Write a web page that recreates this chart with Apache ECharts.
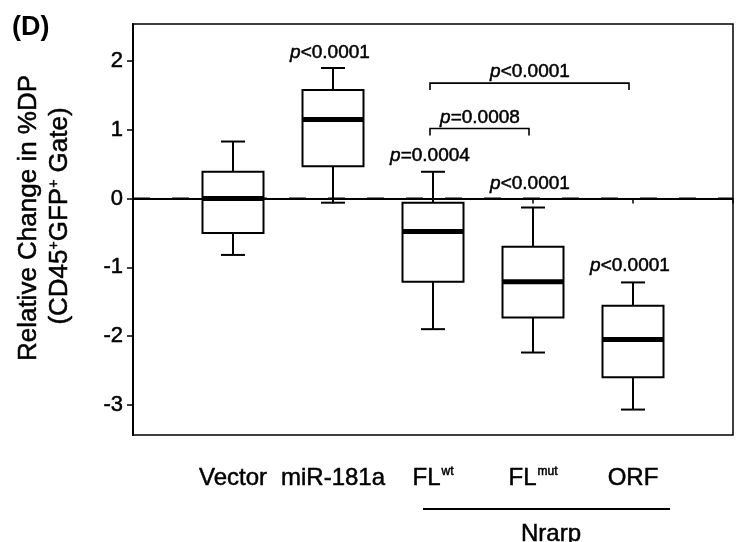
<!DOCTYPE html>
<html>
<head>
<meta charset="utf-8">
<script src="https://cdn.jsdelivr.net/npm/echarts@6/dist/echarts.min.js"></script>
<style>
html,body{margin:0;padding:0;background:#fff;}
#chart{width:736px;height:542px;}
</style>
</head>
<body>
<div id="chart"></div>
<script>
// ---- data ----
const categories = [' ', 'Vector', 'miR-181a', 'FLwt', 'FLmut', 'ORF', '  '];
const categoryLabels = ['', 'Vector', 'miR-181a', 'FL{s|wt}', 'FL{s|mut}', 'ORF', ''];
const boxIndex = [1, 2, 3, 4, 5];
const boxMin = [-0.82, -0.06, -1.90, -2.24, -3.07];
const boxQ1 = [-0.50, 0.47, -1.21, -1.73, -2.60];
const boxMedian = [0.00, 1.15, -0.48, -1.21, -2.05];
const boxQ3 = [0.39, 1.58, -0.06, -0.70, -1.56];
const boxMax = [0.83, 1.90, 0.39, -0.13, -1.22];
const zeroLine = [0, 0, 0, 0, 0, 0, 0];
const yTicks = [-3, -2, -1, 0, 1, 2];
const pLabels = ['p<0.0001', 'p=0.0004', 'p=0.0008', 'p<0.0001', 'p<0.0001', 'p<0.0001'];
const pLabelFrom = [2, 3, 3, 3, 4, 5];
const pLabelTo = [2, 3, 4, 5, 4, 5];
const pLabelY = [2.12, 0.62, 1.18, 1.84, 0.21, -0.98];
const bracketFrom = [3, 3];
const bracketTo = [4, 5];
const bracketY = [1.02, 1.68];

const FONT = '"Liberation Sans", Arial, Helvetica, sans-serif';
const INK = '#000';
const TB = 0.5; // slight text thickening like the scanned original

const boxData = boxIndex.map((x, i) => [x, boxMin[i], boxQ1[i], boxMedian[i], boxQ3[i], boxMax[i]]);
const labelData = pLabels.map((t, i) => [pLabelFrom[i], pLabelTo[i], pLabelY[i], i]);
const bracketData = bracketFrom.map((f, i) => [f, bracketTo[i], bracketY[i]]);

const chart = echarts.init(document.getElementById('chart'), null, {renderer: 'canvas'});

function renderBox(params, api) {
  const x = api.value(0);
  const pMin = api.coord([x, api.value(1)]);
  const pQ1 = api.coord([x, api.value(2)]);
  const pMed = api.coord([x, api.value(3)]);
  const pQ3 = api.coord([x, api.value(4)]);
  const pMax = api.coord([x, api.value(5)]);
  const cx = pMed[0];
  const hw = 30.5, cw = 12;
  const ls = {stroke: INK, lineWidth: 2, fill: null};
  return {
    type: 'group',
    children: [
      {type: 'line', shape: {x1: cx, y1: pMax[1], x2: cx, y2: pQ3[1]}, style: ls},
      {type: 'line', shape: {x1: cx, y1: pQ1[1], x2: cx, y2: pMin[1]}, style: ls},
      {type: 'line', shape: {x1: cx - cw, y1: pMax[1], x2: cx + cw, y2: pMax[1]}, style: ls},
      {type: 'line', shape: {x1: cx - cw, y1: pMin[1], x2: cx + cw, y2: pMin[1]}, style: ls},
      {type: 'rect', shape: {x: cx - hw, y: pQ3[1], width: 2 * hw, height: pQ1[1] - pQ3[1]},
        style: {stroke: INK, lineWidth: 2, fill: '#fff'}},
      {type: 'line', shape: {x1: cx - hw, y1: pMed[1], x2: cx + hw, y2: pMed[1]},
        style: {stroke: '#000', lineWidth: 5}}
    ]
  };
}

function renderLabel(params, api) {
  const a = api.coord([api.value(0), api.value(2)]);
  const b = api.coord([api.value(1), api.value(2)]);
  const txt = pLabels[api.value(3)];
  return {
    type: 'text',
    x: (a[0] + b[0]) / 2 - 3,
    y: a[1],
    style: {
      text: '{i|p}' + txt.slice(1),
      fontSize: 19,
      fontFamily: FONT,
      fill: INK,
      stroke: INK,
      lineWidth: TB,
      align: 'center',
      verticalAlign: 'middle',
      rich: {i: {fontStyle: 'italic', fontSize: 19, fontFamily: FONT, fill: INK, stroke: INK, lineWidth: TB}}
    }
  };
}

function renderBracket(params, api) {
  const a = api.coord([api.value(0), api.value(2)]);
  const b = api.coord([api.value(1), api.value(2)]);
  const x1 = a[0] - 3, x2 = b[0] - 4, y = a[1];
  return {
    type: 'polyline',
    shape: {points: [[x1, y + 7], [x1, y], [x2, y], [x2, y + 7]]},
    style: {stroke: INK, lineWidth: 1.6, fill: null}
  };
}

chart.setOption({
  animation: false,
  backgroundColor: '#fff',
  grid: {left: 133, right: 2, top: 24, bottom: 107, show: true, borderColor: INK, borderWidth: 1.5, backgroundColor: 'transparent'},
  xAxis: {
    type: 'category',
    data: categories,
    boundaryGap: false,
    axisLine: {lineStyle: {color: INK, width: 2}},
    axisTick: {show: true, length: 5, inside: false, lineStyle: {color: INK, width: 1.5}},
    axisLabel: {
      interval: 0,
      margin: 31,
      fontSize: 24,
      fontFamily: FONT,
      color: INK,
      textBorderColor: INK,
      textBorderWidth: TB,
      formatter: (v, i) => categoryLabels[i],
      rich: {s: {fontSize: 12, fontFamily: FONT, color: INK, verticalAlign: 'top', padding: [0, 0, 0, 1]}}
    },
    splitLine: {show: false}
  },
  yAxis: {
    type: 'value',
    min: -3.44,
    max: 2.54,
    axisLine: {show: true, lineStyle: {color: INK, width: 2}},
    axisTick: {show: true, length: 6, customValues: yTicks, lineStyle: {color: INK, width: 1.5}},
    axisLabel: {customValues: yTicks, fontSize: 22, fontFamily: FONT, color: INK, margin: 10,
      textBorderColor: INK, textBorderWidth: TB},
    splitLine: {show: false}
  },
  series: [
    {
      type: 'line',
      data: zeroLine,
      symbol: 'none',
      silent: true,
      lineStyle: {color: INK, width: 2, type: [17, 22]},
      z: 1
    },
    {
      type: 'custom',
      data: boxData,
      renderItem: renderBox,
      encode: {x: 0, y: [1, 2, 3, 4, 5]},
      z: 3
    },
    {
      type: 'custom',
      data: bracketData,
      renderItem: renderBracket,
      encode: {x: [0, 1], y: 2},
      z: 4
    },
    {
      type: 'custom',
      data: labelData,
      renderItem: renderLabel,
      encode: {x: [0, 1], y: 2},
      z: 4
    }
  ],
  graphic: [
    {type: 'text', left: 12, top: 14, style: {text: '(D)', font: 'bold 27px ' + FONT, fill: INK}},
    {type: 'text', x: 29, y: 218, rotation: Math.PI / 2,
      style: {text: 'Relative Change in %DP', fontSize: 26, fontFamily: FONT, fill: INK, stroke: INK, lineWidth: TB,
        align: 'center', verticalAlign: 'middle'}},
    {type: 'text', x: 60, y: 216, rotation: Math.PI / 2,
      style: {text: '(CD45{s|+}GFP{s|+} Gate)', fontSize: 26, fontFamily: FONT, fill: INK, stroke: INK, lineWidth: TB,
        align: 'center', verticalAlign: 'middle',
        rich: {s: {fontSize: 14, fontFamily: FONT, fill: INK, verticalAlign: 'top'}}}},
    {type: 'line', shape: {x1: 423, y1: 509, x2: 670, y2: 509}, style: {stroke: INK, lineWidth: 2}},
    {type: 'text', x: 551, y: 534, style: {text: 'Nrarp', fontSize: 24, fontFamily: FONT, fill: INK, stroke: INK, lineWidth: TB,
      align: 'center', verticalAlign: 'middle'}}
  ]
});
</script>
</body>
</html>
